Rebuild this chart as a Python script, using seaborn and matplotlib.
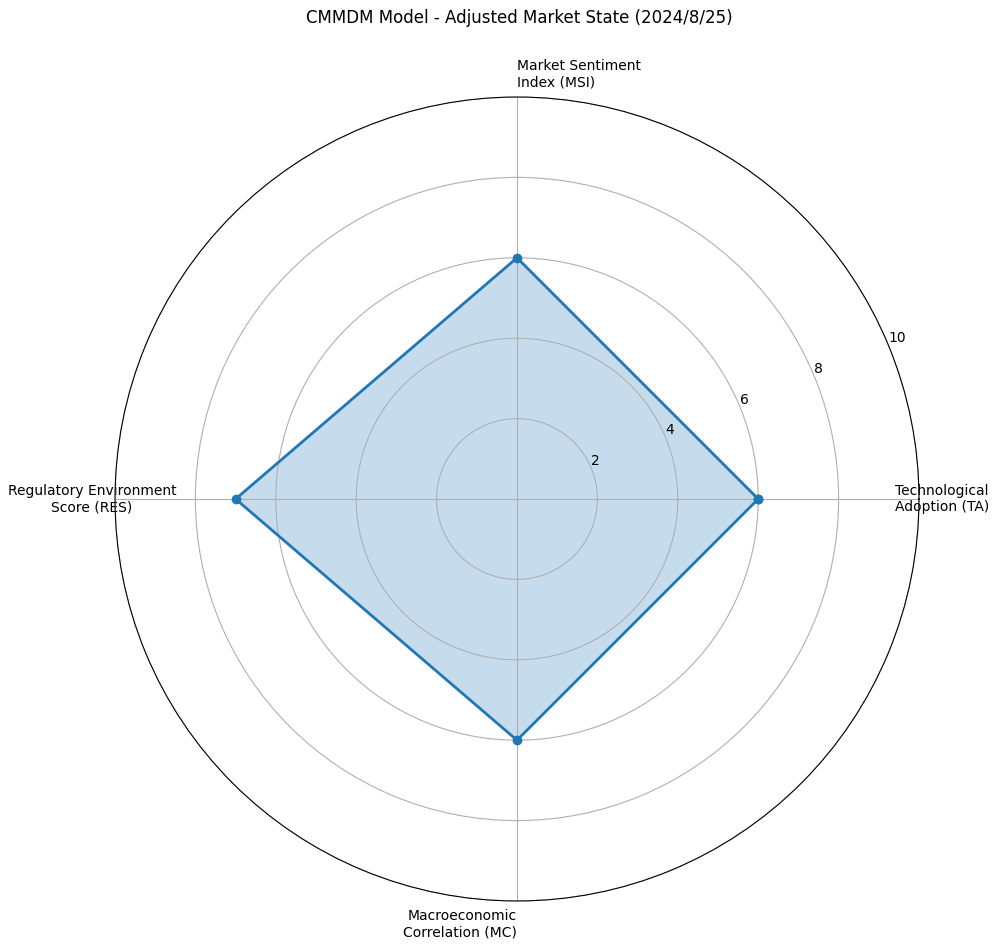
import numpy as np
import pandas as pd
import matplotlib
matplotlib.use("Agg")
import matplotlib.pyplot as plt
import seaborn as sns

categories = ["Technological\nAdoption (TA)", "Market Sentiment\nIndex (MSI)",
              "Regulatory Environment\nScore (RES)", "Macroeconomic\nCorrelation (MC)"]
values = [6, 6, 7, 6]
r_ticks = [2, 4, 6, 8, 10]
r_tick_labels = ["2", "4", "6", "8", "10"]
title = "CMMDM Model - Adjusted Market State (2024/8/25)"

n = len(categories)
angles = np.linspace(0, 2 * np.pi, n, endpoint=False)
closed_angles = np.append(angles, 2 * np.pi)
closed_values = np.append(values, values[0])
df = pd.DataFrame({"theta": closed_angles, "r": closed_values})

fig = plt.figure(figsize=(9.96, 9.47), dpi=100)
ax = fig.add_axes([115 / 996, 46 / 947, 804 / 996, 804 / 947], projection="polar")

ax.fill(closed_angles, closed_values, color="C0", alpha=0.25, linewidth=0)
sns.lineplot(data=df, x="theta", y="r", ax=ax, color="C0", linewidth=2,
             marker="o", markersize=7, markeredgewidth=0, sort=False)

ax.set_ylim(0, 10)
ax.set_yticks(r_ticks)
ax.set_yticklabels(r_tick_labels, fontsize=10)
ax.set_xticks(angles)
ax.set_xticklabels(categories, fontsize=10)
ax.set_xlabel("")
ax.set_ylabel("")
ax.tick_params(axis="x", pad=6)

for label, ang in zip(ax.get_xticklabels(), angles):
    if np.isclose(ang, 0) or np.isclose(ang, np.pi):
        label.set_horizontalalignment("center")
    elif 0 < ang < np.pi:
        label.set_horizontalalignment("left")
    else:
        label.set_horizontalalignment("right")

fig.text(519 / 996, 1 - 18 / 947, title, ha="center", va="center", fontsize=12)

fig.savefig("out.png", dpi=100)
